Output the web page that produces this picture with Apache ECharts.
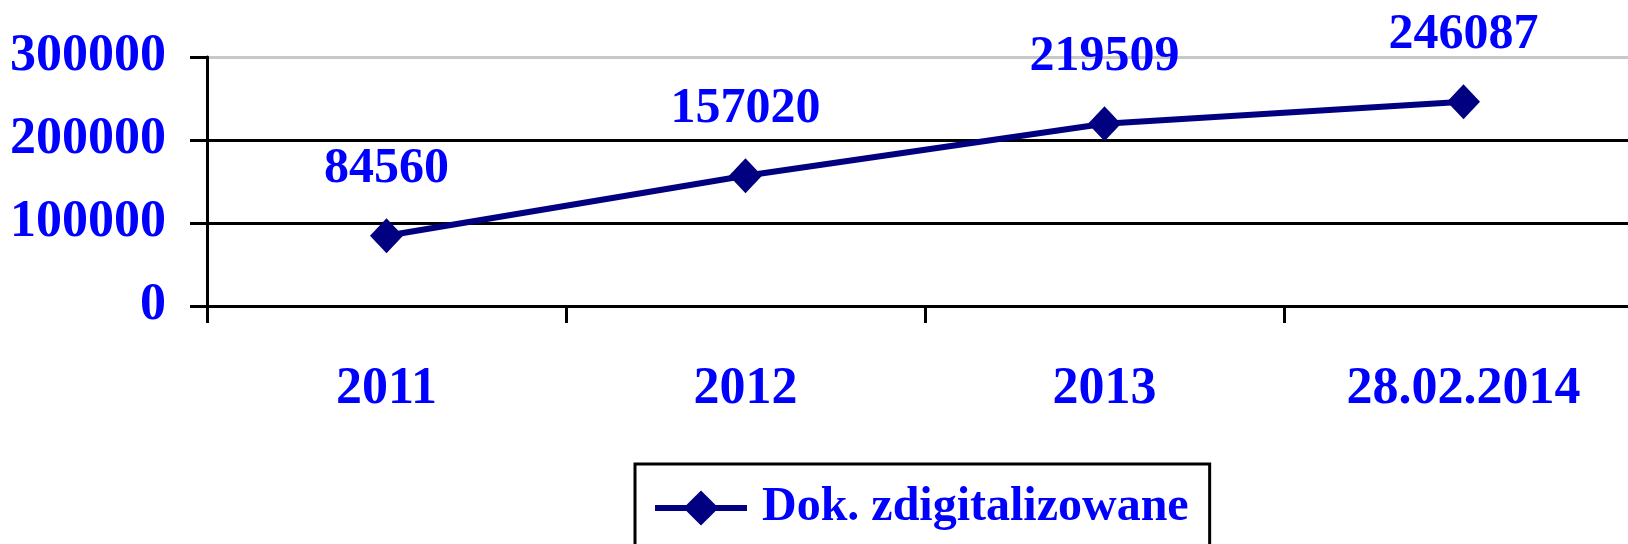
<!DOCTYPE html>
<html>
<head>
<meta charset="utf-8">
<script src="https://cdn.jsdelivr.net/npm/echarts@6/dist/echarts.min.js"></script>
<style>
  html, body { margin: 0; padding: 0; background: #fff; overflow: hidden; }
  /* obszar wykresu wychodzi poza prawą krawędź, jak w oryginale */
  #chart { width: 1643px; height: 544px; }
</style>
</head>
<body>
<div id="chart"></div>
<script>
// dane z wykresu
const categories = ["2011", "2012", "2013", "28.02.2014"];
const docsDigitized = [84560, 157020, 219509, 246087];
const seriesName = "Dok. zdigitalizowane";
const yTicks = [0, 100000, 200000, 300000];

const blue = "#0000ff";
const navy = "#000080";
const font = "'Liberation Serif', 'Times New Roman', serif";

let chart = echarts.init(document.getElementById("chart"));

let option = {
    animation: false,
    backgroundColor: "#fff",
    grid: {
        left: 207,
        right: 0,
        top: 57,
        bottom: 238
    },
    legend: {
        data: [seriesName],
        left: 635,
        top: 464,
        padding: [20, 21, 80, 17],
        borderColor: "#000",
        borderWidth: 3,
        itemWidth: 92,
        itemHeight: 44,
        itemGap: 0,
        lineStyle: { width: 6 },
        textStyle: {
            color: blue,
            fontFamily: font,
            fontWeight: "bold",
            fontSize: 48,
            padding: [0, 0, 0, 10]
        }
    },
    xAxis: {
        type: "category",
        data: categories,
        boundaryGap: true,
        axisLine: { lineStyle: { color: "#000", width: 3 } },
        axisTick: { show: true, length: 17, lineStyle: { color: "#000", width: 3 } },
        axisLabel: {
            color: blue,
            fontFamily: font,
            fontWeight: "bold",
            fontSize: 52,
            margin: 58
        },
        splitLine: { show: false }
    },
    yAxis: {
        type: "value",
        min: yTicks[0],
        max: yTicks[yTicks.length - 1],
        interval: yTicks[1] - yTicks[0],
        axisLine: { show: true, lineStyle: { color: "#000", width: 3 } },
        axisTick: { show: true, length: 17, lineStyle: { color: "#000", width: 3 } },
        axisLabel: {
            color: blue,
            fontFamily: font,
            fontWeight: "bold",
            fontSize: 52,
            margin: 41,
            formatter: function (v) { return String(v); }
        },
        splitLine: {
            show: true,
            lineStyle: { color: ["#000", "#000", "#000", "#c8c8c8"], width: 3 }
        }
    },
    series: [{
        name: seriesName,
        type: "line",
        data: docsDigitized,
        symbol: "diamond",
        symbolSize: [33, 35],
        lineStyle: { color: navy, width: 6 },
        itemStyle: { color: navy },
        label: {
            show: true,
            position: "top",
            distance: 24,
            color: blue,
            fontFamily: font,
            fontWeight: "bold",
            fontSize: 50
        }
    }]
};

chart.setOption(option);
</script>
</body>
</html>
